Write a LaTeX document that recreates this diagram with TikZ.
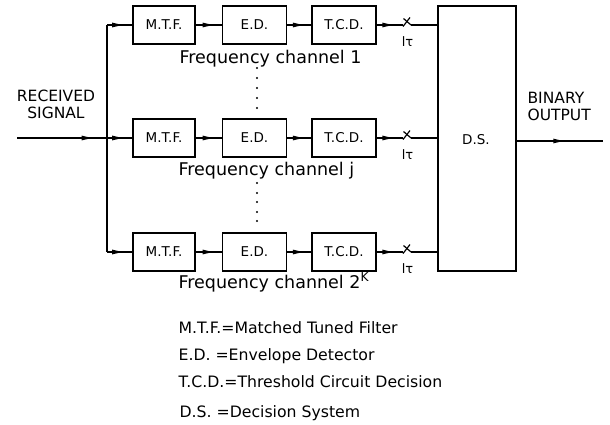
\documentclass[tikz,border=0pt]{standalone}
\usepackage{fontspec}
\setmainfont{DejaVu Sans}
\usetikzlibrary{calc}
\newcommand\arrline[3]{%
  \draw (#1) -- (#2);
  \path ($(#1)!#3!(#2)$) coordinate (atip);
  \fill (atip) -- ++(-10,-2.4) -- ++(0,4.8) -- cycle;}
\begin{document}
\begin{tikzpicture}[x=1pt,y=-1pt,line width=1.2pt,
  blk/.style={draw,minimum height=38pt,inner sep=0pt,font=\fontsize{13.5}{13.5}\selectfont},
  lbl/.style={font=\fontsize{17.5}{18}\selectfont,inner sep=0pt,anchor=base west},
  leg/.style={font=\fontsize{15.7}{17}\selectfont,inner sep=0pt,anchor=base west},
  sig/.style={font=\fontsize{15.5}{16.5}\selectfont,inner sep=0pt},
  tau/.style={font=\fontsize{13}{13}\selectfont,inner sep=0pt,anchor=base}]
\useasboundingbox (0,0) rectangle (610,424);

% decision system
\node[draw,minimum width=78pt,minimum height=265pt,inner sep=0pt] (ds) at (477,138.5) {};
\node[font=\fontsize{13.5}{13.5}\selectfont,inner sep=0pt] (dslbl) at (476,140) {D.S.};

% input
\coordinate (in) at (17,138);
\coordinate (bus2) at (107,138);
\node[sig,align=center,anchor=base] (rx) at (56,118) {RECEIVED\\SIGNAL};
\arrline{in}{bus2}{0.83}

\foreach \r/\y in {1/25,2/138,3/252}{
  \node[blk,minimum width=62pt] (mtf\r) at (164,\y) {M.T.F.};
  \node[blk,minimum width=64pt] (ed\r) at (254.5,\y) {E.D.};
  \node[blk,minimum width=64pt] (tcd\r) at (344,\y) {T.C.D.};
  \coordinate (bus\r) at (107,\y);
  \coordinate (swa\r) at (403,\y);
  \coordinate (swb\r) at (411,\y);
  \arrline{bus\r}{mtf\r.west}{0.6}
  \arrline{mtf\r.east}{ed\r.west}{0.65}
  \arrline{ed\r.east}{tcd\r.west}{0.65}
  \arrline{tcd\r.east}{swa\r}{0.6}
  \draw (403,\y+1.5) -- (410,\y-7.5);
  \draw (403.5,\y-6.5) -- (swb\r);
  \draw (swb\r) -- (ds.west |- swb\r);
  \node[tau] (tau\r) at (407.5,\y+21) {lτ};
}
\draw (bus1) -- (bus3);

% channel labels
\node[lbl] (fc1) at (179,63) {Frequency channel 1};
\node[lbl] (fcj) at (178,175) {Frequency channel j};
\node[lbl] (fck) at (178,288) {Frequency channel 2\textsuperscript{K}};

% dots
\foreach \d in {68,78,88,98,108,183,193,202,212,221}{
  \fill (257,\d) circle (1.2pt);
}

% output
\coordinate (out) at (603,141);
\coordinate (dsout) at (ds.east |- out);
\arrline{dsout}{out}{0.54}
\node[sig,align=left,anchor=base west] (bo) at (527,120) {BINARY\\OUTPUT};

% legend
\node[leg] (l1) at (178,333) {M.T.F.=Matched Tuned Filter};
\node[leg] (l2) at (178,360) {E.D. =Envelope Detector};
\node[leg] (l3) at (178,387) {T.C.D.=Threshold Circuit Decision};
\node[leg] (l4) at (179,417) {D.S. =Decision System};
\end{tikzpicture}
\end{document}
